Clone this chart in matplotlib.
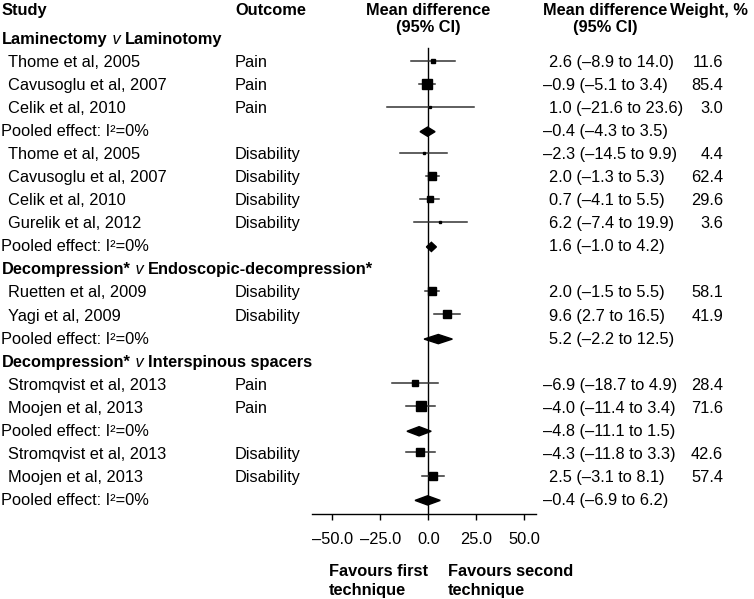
import matplotlib.pyplot as plt
from matplotlib.transforms import blended_transform_factory

plt.rcParams['font.family'] = ['Liberation Sans', 'DejaVu Sans']

# rows from top to bottom: 'h' = comparison header, 's' = study, 'p' = pooled effect
row_kind = ['h', 's', 's', 's', 'p', 's', 's', 's', 's', 'p',
            'h', 's', 's', 'p',
            'h', 's', 's', 'p', 's', 's', 'p']
headers = [['Laminectomy', 'Laminotomy'],
           ['Decompression*', 'Endoscopic-decompression*'],
           ['Decompression*', 'Interspinous spacers']]
studies = ['Thome et al, 2005', 'Cavusoglu et al, 2007', 'Celik et al, 2010',
           'Thome et al, 2005', 'Cavusoglu et al, 2007', 'Celik et al, 2010', 'Gurelik et al, 2012',
           'Ruetten et al, 2009', 'Yagi et al, 2009',
           'Stromqvist et al, 2013', 'Moojen et al, 2013',
           'Stromqvist et al, 2013', 'Moojen et al, 2013']
outcomes = ['Pain', 'Pain', 'Pain',
            'Disability', 'Disability', 'Disability', 'Disability',
            'Disability', 'Disability',
            'Pain', 'Pain',
            'Disability', 'Disability']
est = [2.6, -0.9, 1.0, -2.3, 2.0, 0.7, 6.2, 2.0, 9.6, -6.9, -4.0, -4.3, 2.5]
lo = [-8.9, -5.1, -21.6, -14.5, -1.3, -4.1, -7.4, -1.5, 2.7, -18.7, -11.4, -11.8, -3.1]
hi = [14.0, 3.4, 23.6, 9.9, 5.3, 5.5, 19.9, 5.5, 16.5, 4.9, 3.4, 3.3, 8.1]
weight = [11.6, 85.4, 3.0, 4.4, 62.4, 29.6, 3.6, 58.1, 41.9, 28.4, 71.6, 42.6, 57.4]
pool_est = [-0.4, 1.6, 5.2, -4.8, -0.4]
pool_lo = [-4.3, -1.0, -2.2, -11.1, -6.9]
pool_hi = [3.5, 4.2, 12.5, 1.5, 6.2]
xticks = [-50, -25, 0, 25, 50]

W, H = 754, 599
fig = plt.figure(figsize=(W / 100, H / 100), dpi=100)
ax = fig.add_axes([312 / W, (H - 514) / H, 224 / W, 514 / H])
ax.set_xlim(-60.5, 56)
ax.set_ylim(20.59, -1.714)
for s in ['top', 'left', 'right']:
    ax.spines[s].set_visible(False)
fs = 11.8
ax.set_yticks([])
ax.set_xticks(xticks)
ax.set_xticklabels([f'{t:.1f}'.replace('-', '–') for t in xticks], fontsize=fs)
ax.tick_params(axis='x', length=4, width=1, pad=9)
ax.spines['bottom'].set_linewidth(1)

ax.plot([0, 0], [0.37, 20.59], color='black', lw=1, zorder=1)

tr = blended_transform_factory(fig.transFigure, ax.transData)


def ci_text(e, l, h):
    return f'{e:.1f} ({l:.1f} to {h:.1f})'.replace('-', '–')


def ci_x(e):
    return (543 if e < 0 else 549) / W


# column headers
hy = [-1.28, -0.54]
ax.text(2 / W, hy[0], 'Study', transform=tr, fontsize=fs, weight='bold', va='center')
ax.text(235 / W, hy[0], 'Outcome', transform=tr, fontsize=fs, weight='bold', va='center')
ax.text(428 / W, hy[0], 'Mean difference', transform=tr, fontsize=fs, weight='bold', va='center', ha='center')
ax.text(428 / W, hy[1], '(95% CI)', transform=tr, fontsize=fs, weight='bold', va='center', ha='center')
ax.text(605 / W, hy[0], 'Mean difference', transform=tr, fontsize=fs, weight='bold', va='center', ha='center')
ax.text(605 / W, hy[1], '(95% CI)', transform=tr, fontsize=fs, weight='bold', va='center', ha='center')
ax.text(670 / W, hy[0], 'Weight, %', transform=tr, fontsize=fs, weight='bold', va='center')

si = pi = hh = 0
for r, kind in enumerate(row_kind):
    if kind == 'h':
        a, b = headers[hh]
        t1 = ax.text(2 / W, r, a, transform=tr, fontsize=fs, weight='bold', va='center')
        t2 = ax.annotate(' v ', xy=(1, 0), xycoords=t1, fontsize=fs, style='italic', va='bottom')
        ax.annotate(b, xy=(1, 0), xycoords=t2, fontsize=fs, weight='bold', va='bottom')
        hh += 1
    elif kind == 's':
        ax.text(8 / W, r, studies[si], transform=tr, fontsize=fs, va='center')
        ax.text(235 / W, r, outcomes[si], transform=tr, fontsize=fs, va='center')
        ax.plot([lo[si], hi[si]], [r - 0.08, r - 0.08], color='#333333', lw=1.1, zorder=2)
        ax.plot(est[si], r - 0.08, marker='s', color='black', ms=0.8 * weight[si] ** 0.5, zorder=3)
        ax.text(ci_x(est[si]), r, ci_text(est[si], lo[si], hi[si]), transform=tr, fontsize=fs, va='center')
        ax.text(723 / W, r, f'{weight[si]:.1f}', transform=tr, fontsize=fs, va='center', ha='right')
        si += 1
    else:
        ax.text(1 / W, r, 'Pooled effect: I²=0%', transform=tr, fontsize=fs, va='center')
        e, l, h = pool_est[pi], pool_lo[pi], pool_hi[pi]
        ax.fill([l, e, h, e], [r, r - 0.2, r, r + 0.2], color='black', zorder=3)
        ax.text(ci_x(e), r, ci_text(e, l, h), transform=tr, fontsize=fs, va='center')
        pi += 1

fig.text(329 / W, 1 - 564 / H, 'Favours first\ntechnique', fontsize=fs, weight='bold', va='top', linespacing=1.3)
fig.text(448 / W, 1 - 564 / H, 'Favours second\ntechnique', fontsize=fs, weight='bold', va='top', linespacing=1.3)

fig.savefig('out.png', dpi=100)
